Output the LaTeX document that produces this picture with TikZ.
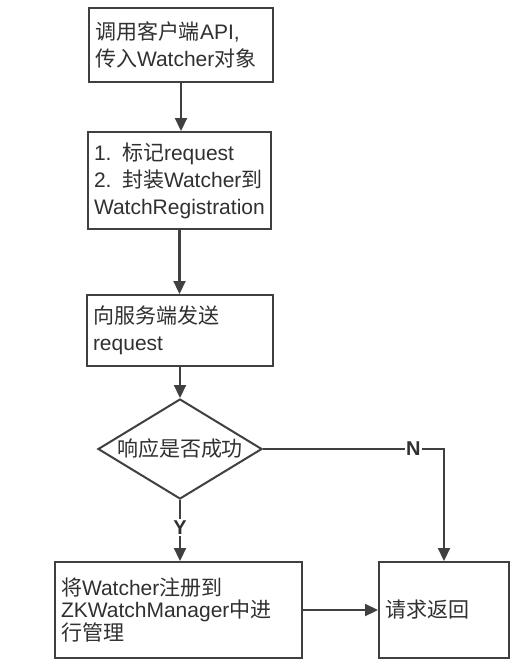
\documentclass[tikz,border=0pt]{standalone}
\usepackage{fontspec}
\setmainfont{Liberation Sans}
\newfontfamily\cjk{Noto Sans CJK SC}
\newcommand\zh[1]{{\cjk #1}}
\usetikzlibrary{shapes.geometric,arrows.meta}
\definecolor{lncol}{HTML}{404040}
\definecolor{txcol}{HTML}{303030}
\begin{document}
\begin{tikzpicture}[x=1pt,y=-1pt,
  box/.style={draw=lncol,line width=2pt,rectangle,inner xsep=6pt,inner ysep=0pt,align=left,text=txcol,
    font=\fontsize{21}{27}\selectfont},
  dia/.style={draw=lncol,line width=2pt,diamond,minimum width=164pt,minimum height=100pt,inner sep=0pt},
  dtxt/.style={text=txcol,inner sep=0pt,font=\fontsize{21}{27}\selectfont},
  lab/.style={fill=white,inner sep=1.5pt,text=txcol,font=\fontsize{20}{22}\bfseries\selectfont},
  arr/.style={draw=lncol,line width=2.2pt,-{Triangle[length=13pt,width=12pt]}}]
\useasboundingbox[fill=white] (0,0) rectangle (528,670);
\node[box,text width=172pt,minimum height=74pt] (b1) at (181,45)
  {\zh{调用客户端}API,\\\zh{传入}Watcher\zh{对象}};
\node[box,text width=171pt,minimum height=97pt] (b2) at (179.5,180.5)
  {1. \zh{标记}request\\2. \zh{封装}Watcher\zh{到}\\WatchRegistration};
\node[box,text width=174pt,minimum height=71pt] (b3) at (180,330.5)
  {\zh{向服务端发送}\\request};
\node[dia] (d) at (180,449) {};
\node[dtxt] (dt) at (d.center) {\zh{响应是否成功}};
\node[box,text width=235pt,minimum height=96pt,font=\fontsize{21}{22}\selectfont] (b4) at (178.5,610)
  {\zh{将}Watcher\zh{注册到}\\ZKWatchManager\zh{中进}\\\zh{行管理}};
\node[box,text width=118pt,minimum height=96pt] (b5) at (444,610)
  {\zh{请求返回}};
\draw[arr] (b1.south) -- (b1.south |- b2.north);
\draw[arr] (b2.south) -- (b2.south |- b3.north);
\draw[arr] (b3.south) -- (b3.south |- d.north);
\draw[arr] (d.south) -- node[lab,pos=0.45] (y) {Y} (d.south |- b4.north);
\draw[arr] (d.east) -- node[lab,pos=0.83] (n) {N} (d.east -| b5.north) -- (b5.north);
\draw[arr] (b4.east) -- (b5.west);
\end{tikzpicture}
\end{document}
